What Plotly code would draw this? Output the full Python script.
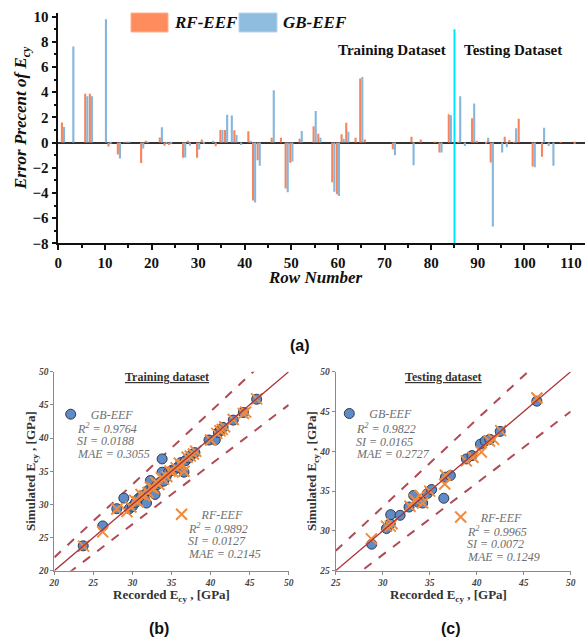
import plotly.graph_objects as go

W, H = 588, 643
def fx(px): return px / W
def fy(py): return 1 - py / H

SERIF = "Liberation Serif"
SANS = "Liberation Sans"
ORANGE = "#F7845A"
BLUE = "#86B6DC"

# ---------------- (a) error bars ----------------
rows = [1, 3, 6, 7, 10, 11, 13, 14, 15, 18, 19, 22, 23, 24, 27, 28, 30, 31, 33, 34,
        35, 36, 37, 38, 39, 41, 42, 43, 46, 48, 49, 50, 52, 55, 56, 59, 60, 61, 62, 64,
        65, 66, 72, 76, 78, 81, 82, 84, 86, 87, 89, 90, 92, 93, 95, 96, 97, 98, 99, 102,
        104, 105, 106, 108, 111]
rf_err = [1.6, 0.0, 3.87, 3.87, 0.0, -0.32, -0.95, 0.0, 0.05, -1.63, 0.1, 0.39, -0.25, -0.2, -1.2, 0.1, -1.21, 0.25, 0.0, -0.3,
          1.0, 1.0, 0.0, 0.97, 0.0, 0.9, -4.6, -1.4, 0.38, 0.38, -3.65, -1.6, 0.3, 1.3, 0.7, -3.15, -4.1, 0.65, 1.58, 0.38,
          5.08, 0.25, -0.53, 0.45, 0.25, 0.05, -0.8, 2.24, 0.05, 0.0, 1.92, 0.1, -0.1, -1.58, 0.0, 0.45, 0.2, 0.05, 1.89, -1.9,
          -1.13, 0.0, 0.0, 0.05, -0.12]
gb_err = [1.23, 7.63, 3.68, 3.68, 9.79, -0.05, -1.26, 0.05, 0.05, -0.47, 0.05, 1.21, -0.1, -0.1, -1.18, -0.25, -0.55, -0.1, 0.1, 0.0,
          1.0, 2.2, 2.15, 0.6, -0.2, 0.1, -4.77, -1.85, 4.15, 0.0, -3.95, -1.5, 0.92, 2.5, 0.38, -3.9, -4.25, 0.3, 0.86, 0.0,
          5.2, 0.0, -1.0, -1.8, 0.0, 0.0, -0.8, 2.16, 3.68, -0.27, 3.1, 0.0, 0.38, -6.66, -0.8, -0.37, 0.0, 1.13, 0.0, -1.97,
          1.18, -0.27, -1.84, 0.0, 0.0]
split_row = 85
bar_y_ticks = [-8, -6, -4, -2, 0, 2, 4, 6, 8, 10]
bar_x_ticks = [0, 10, 20, 30, 40, 50, 60, 70, 80, 90, 100, 110]

# ---------------- (b) training scatter ----------------
train_gb_x = [23.7, 26.2, 28.0, 28.9, 29.6, 30.0, 30.4, 30.8, 31.2, 31.5, 31.8, 32.0, 32.3, 32.5, 32.9,
              33.2, 33.5, 33.8, 33.8, 34.0, 34.3, 34.6, 35.0, 35.4, 35.8, 36.2, 36.6, 36.8, 37.2, 37.6,
              38.0, 39.8, 40.6, 41.0, 41.3, 41.6, 42.9, 44.2, 45.9]
train_gb_y = [23.75, 26.75, 29.35, 30.95, 29.35, 29.7, 30.3, 30.9, 31.3, 31.0, 30.2, 32.1, 33.6, 32.3, 31.5,
              33.0, 33.3, 36.85, 34.85, 33.5, 34.1, 34.8, 35.1, 35.3, 35.6, 36.3, 34.85, 36.6, 37.0, 37.5,
              37.8, 39.7, 39.7, 40.85, 41.2, 41.6, 42.7, 43.85, 45.85]
train_rf_x = [23.75, 26.2, 28.0, 29.3, 29.8, 30.3, 30.7, 31.1, 31.6, 32.0, 32.3, 32.7, 33.0, 33.4, 33.7,
              34.0, 34.4, 34.8, 35.2, 35.6, 36.0, 36.4, 36.6, 37.0, 37.4, 37.8, 38.1, 40.0, 40.8, 41.2,
              41.5, 41.8, 42.9, 44.2, 44.5, 45.9]
train_rf_y = [23.7, 25.85, 29.3, 28.9, 29.6, 30.6, 30.4, 31.5, 31.3, 31.8, 32.6, 32.4, 33.3, 33.0, 34.0,
              33.8, 34.2, 35.0, 34.9, 35.5, 36.2, 36.0, 35.0, 37.1, 37.3, 37.6, 38.0, 39.7, 40.7, 41.1,
              41.3, 41.7, 42.8, 43.7, 43.9, 45.9]

# ---------------- (c) testing scatter ----------------
test_gb_x = [28.83, 30.4, 30.8, 30.85, 31.85, 32.8, 33.3, 33.8, 34.25, 34.75, 35.2, 36.5, 36.67, 37.2,
             38.9, 39.5, 40.4, 40.9, 41.4, 42.5, 46.4]
test_gb_y = [28.33, 30.3, 30.9, 32.04, 31.96, 33.0, 34.46, 33.6, 33.5, 34.7, 35.2, 34.1, 36.75, 36.96,
             39.04, 39.46, 40.9, 41.3, 41.5, 42.5, 46.3]
test_rf_x = [28.8, 30.4, 30.8, 31.0, 32.9, 33.4, 33.97, 34.25, 35.0, 36.6, 36.67, 38.9, 39.6, 40.5,
             41.35, 41.8, 42.55, 46.4]
test_rf_y = [29.0, 30.6, 30.6, 30.9, 33.1, 33.9, 34.46, 33.5, 35.0, 35.9, 37.0, 38.8, 39.25, 39.9,
             41.3, 41.5, 42.6, 46.7]

train_range = [20, 50]
test_range = [25, 50]
band = 0.10  # +/-10% lines

gb_stats_train = ["R<sup>2</sup> = 0.9764", "SI = 0.0188", "MAE = 0.3055"]
rf_stats_train = ["R<sup>2</sup> = 0.9892", "SI = 0.0127", "MAE = 0.2145"]
gb_stats_test = ["R<sup>2</sup> = 0.9822", "SI = 0.0165", "MAE = 0.2727"]
rf_stats_test = ["R<sup>2</sup> = 0.9965", "SI = 0.0072", "MAE = 0.1249"]

fig = go.Figure()

# bars
fig.add_trace(go.Bar(x=rows, y=rf_err, name="RF-EEF", marker=dict(color=ORANGE, line=dict(width=0)),
                     xaxis="x", yaxis="y", showlegend=False))
fig.add_trace(go.Bar(x=rows, y=gb_err, name="GB-EEF", marker=dict(color=BLUE, line=dict(width=0)),
                     xaxis="x", yaxis="y", showlegend=False))

LINE_RED = "#A8323A"
DASH_RED = "#B04A55"
CIRCLE_FILL = "#5F8BC6"
X_COLOR = "#F08A3C"

def add_panel(xa, ya, rng, gbx, gby, rfx, rfy, leg_gb, leg_rf):
    lx = [rng[0], rng[1]]
    fig.add_trace(go.Scatter(x=lx, y=[v * (1 + band) for v in lx], mode="lines",
                             line=dict(color=DASH_RED, width=2, dash="dash"),
                             xaxis=xa, yaxis=ya, showlegend=False, hoverinfo="skip"))
    fig.add_trace(go.Scatter(x=lx, y=[v * (1 - band) for v in lx], mode="lines",
                             line=dict(color=DASH_RED, width=2, dash="dash"),
                             xaxis=xa, yaxis=ya, showlegend=False, hoverinfo="skip"))
    fig.add_trace(go.Scatter(x=gbx, y=gby, mode="markers", name="GB-EEF",
                             marker=dict(symbol="circle", size=10, color=CIRCLE_FILL,
                                         line=dict(color="#2E3A50", width=1)),
                             xaxis=xa, yaxis=ya, legend=leg_gb))
    fig.add_trace(go.Scatter(x=rfx, y=rfy, mode="markers", name="RF-EEF",
                             marker=dict(symbol="x-thin", size=11,
                                         line=dict(color=X_COLOR, width=2)),
                             xaxis=xa, yaxis=ya, legend=leg_rf))
    fig.add_trace(go.Scatter(x=lx, y=lx, mode="lines", line=dict(color=LINE_RED, width=1.3),
                             xaxis=xa, yaxis=ya, showlegend=False, hoverinfo="skip"))

add_panel("x2", "y2", train_range, train_gb_x, train_gb_y, train_rf_x, train_rf_y, "legend", "legend2")
add_panel("x3", "y3", test_range, test_gb_x, test_gb_y, test_rf_x, test_rf_y, "legend3", "legend4")

bar_font = dict(family=SERIF, size=15, color="#111", weight="bold")
sc_tick_font = dict(family=SERIF, size=9.5, color="#444", weight="bold", style="italic")

def sc_axis(domain, rng, anchor):
    return dict(domain=domain, range=rng, anchor=anchor, showline=True, linecolor="#8A8A8A",
                linewidth=1, ticks="outside", ticklen=3, tickcolor="#8A8A8A", dtick=5,
                tickfont=sc_tick_font, showgrid=False, zeroline=False, fixedrange=True,
                automargin=False)

def legend_at(px, py):
    return dict(x=fx(px - 20), y=fy(py), xanchor="left", yanchor="middle", bgcolor="rgba(0,0,0,0)",
                borderwidth=0, font=dict(family=SERIF, size=12, color="#6E6E6E", style="italic"),
                itemclick=False, itemdoubleclick=False)

fig.update_layout(
    width=W, height=H, margin=dict(l=0, r=0, t=0, b=0, autoexpand=False),
    paper_bgcolor="white", plot_bgcolor="white",
    barmode="group", bargap=0.1, bargroupgap=0,
    xaxis=dict(domain=[fx(58.3), fx(585)], range=[0, 113], anchor="y", tickvals=bar_x_ticks,
               showline=True, linecolor="#111", linewidth=1.5, ticks="outside", ticklen=5,
               tickcolor="#111", tickwidth=1.5, tickfont=bar_font, showgrid=False, zeroline=False,
               automargin=False,
               minor=dict(dtick=5, tick0=0, ticks="outside", ticklen=3, tickcolor="#111")),
    yaxis=dict(domain=[fy(243.3), fy(12.8)], range=[-8, 10.3], anchor="x", tickvals=bar_y_ticks,
               showline=True, linecolor="#111", linewidth=1.5, ticks="outside", ticklen=5,
               tickcolor="#111", tickwidth=1.5, tickfont=bar_font, showgrid=False,
               zeroline=True, zerolinecolor="#333", zerolinewidth=2, automargin=False,
               minor=dict(dtick=1, tick0=0, ticks="outside", ticklen=3, tickcolor="#111")),
    xaxis2=sc_axis([fx(54.3), fx(288.7)], train_range, "y2"),
    yaxis2=sc_axis([fy(570.7), fy(371.7)], train_range, "x2"),
    xaxis3=sc_axis([fx(335.7), fx(570.7)], test_range, "y3"),
    yaxis3=sc_axis([fy(570.7), fy(371.7)], test_range, "x3"),
    legend=legend_at(70.7, 414.2),
    legend2=legend_at(181.6, 514.3),
    legend3=legend_at(349.3, 413.5),
    legend4=legend_at(460.7, 517.0),
    showlegend=True,
)

# cyan split line
fig.add_shape(type="line", xref="x", yref="y", x0=split_row, x1=split_row, y0=-8, y1=9,
              line=dict(color="#00E5FF", width=2))

# bar legend swatches
fig.add_shape(type="rect", xref="paper", yref="paper", x0=fx(131), x1=fx(168), y0=fy(32), y1=fy(13),
              fillcolor="#FF8C5C", line=dict(color="#FFB08E", width=1))
fig.add_shape(type="rect", xref="paper", yref="paper", x0=fx(239), x1=fx(277), y0=fy(32), y1=fy(13),
              fillcolor="#8EBDE0", line=dict(color="#B5D4EC", width=1))

ann = []
def A(text, px, py, size, xanchor="center", angle=0, family=SERIF, weight="bold", style="normal", color="#111"):
    ann.append(dict(text=text, x=fx(px), y=fy(py), xref="paper", yref="paper", showarrow=False,
                    xanchor=xanchor, yanchor="middle", textangle=angle,
                    font=dict(family=family, size=size, color=color, weight=weight, style=style)))

A("RF-EEF", 172, 22, 17, xanchor="left", style="italic")
A("GB-EEF", 281, 22, 17, xanchor="left", style="italic")
A("Training Dataset", 391.5, 50, 15)
A("Testing Dataset", 512.5, 50, 15)
A("Error Precent of E<sub>cy</sub>", 22, 118, 17, angle=-90, style="italic")
A("Row Number", 315, 277, 17, style="italic")
A("(a)", 300, 345, 16, family=SANS)
A("(b)", 159, 628, 16, family=SANS)
A("(c)", 451, 628, 16, family=SANS)

A("<u>Training dataset</u>", 167, 377, 12, color="#333")
A("<u>Testing dataset</u>", 444, 377, 12, color="#333")
A("Recorded E<sub>cy</sub> , [GPa]", 171, 595, 13, color="#333")
A("Recorded E<sub>cy</sub> , [GPa]", 448, 595, 13, color="#333")
A("Simulated E<sub>cy</sub> , [GPa]", 32, 471, 13, angle=-90, color="#333")
A("Simulated E<sub>cy</sub> , [GPa]", 313, 471, 13, angle=-90, color="#333")

def stats(lines, xa, ya, x, ys):
    for t, y in zip(lines, ys):
        ann.append(dict(text=t, x=x, y=y, xref=xa, yref=ya, showarrow=False, xanchor="left",
                        yanchor="middle",
                        font=dict(family=SERIF, size=12, color="#6E6E6E", style="italic")))

stats(gb_stats_train, "x2", "y2", 22.7, [41.45, 39.5, 37.6])
stats(rf_stats_train, "x2", "y2", 36.8, [26.4, 24.45, 22.5])
stats(gb_stats_test, "x3", "y3", 26.9, [42.9, 41.2, 39.67])
stats(rf_stats_test, "x3", "y3", 38.8, [29.9, 28.3, 26.75])

fig.update_layout(annotations=ann)
fig.write_html("out.html", config={"displayModeBar": False},
               post_script="document.body.style.margin='0';")
